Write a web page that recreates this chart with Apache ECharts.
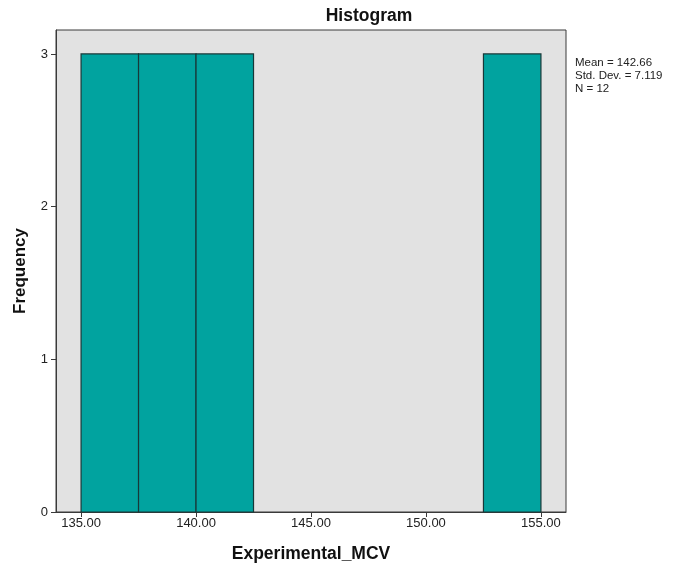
<!DOCTYPE html>
<html>
<head>
<meta charset="utf-8">
<script src="https://cdn.jsdelivr.net/npm/echarts@6/dist/echarts.min.js"></script>
<style>
  html, body { margin: 0; padding: 0; background: #fff; }
  #chart { width: 679px; height: 569px; }
</style>
</head>
<body>
<div id="chart"></div>
<script>
// Histogram bins of Experimental_MCV: lower edge, upper edge, frequency
const binStart = [135.0, 137.5, 140.0, 152.5];
const binEnd   = [137.5, 140.0, 142.5, 155.0];
const binFreq  = [3, 3, 3, 3];

const xTicks = [135, 140, 145, 150, 155];
const yTicks = [0, 1, 2, 3];

const statsLines = ['Mean = 142.66', 'Std. Dev. = 7.119', 'N = 12'];

const FONT = '"Liberation Sans", Arial, sans-serif';

const chart = echarts.init(document.getElementById('chart'), null, { renderer: 'canvas' });

const binData = binStart.map((s, i) => [s, binEnd[i], binFreq[i]]);

chart.setOption({
  animation: false,
  backgroundColor: '#ffffff',
  title: {
    text: 'Histogram',
    left: 364,
    top: 2,
    textAlign: 'center',
    textStyle: { fontFamily: FONT, fontSize: 17.5, fontWeight: 'bold', color: '#111' }
  },
  grid: {
    left: 56, right: 113, top: 30, bottom: 57,
    containLabel: false,
    outerBoundsMode: 'none',
    show: true,
    backgroundColor: '#e2e2e2',
    borderColor: '#3a3a3a',
    borderWidth: 1
  },
  xAxis: {
    type: 'value',
    min: 133.91,
    max: 156.09,
    name: 'Experimental_MCV',
    nameLocation: 'middle',
    nameGap: 33,
    nameTextStyle: { fontFamily: FONT, fontSize: 17.5, fontWeight: 'bold', color: '#111' },
    splitLine: { show: false },
    axisLine: { show: true, lineStyle: { color: '#3a3a3a' } },
    axisTick: { show: true, length: 5, customValues: xTicks, lineStyle: { color: '#3a3a3a' } },
    axisLabel: {
      customValues: xTicks,
      formatter: v => v.toFixed(2),
      fontFamily: FONT, fontSize: 13, color: '#222', margin: 5
    }
  },
  yAxis: {
    type: 'value',
    min: 0,
    max: 3.157,
    name: 'Frequency',
    nameLocation: 'middle',
    nameGap: 27,
    nameRotate: 90,
    nameTextStyle: { fontFamily: FONT, fontSize: 17, fontWeight: 'bold', color: '#111' },
    splitLine: { show: false },
    axisLine: { show: true, lineStyle: { color: '#3a3a3a' } },
    axisTick: { show: true, length: 5, customValues: yTicks, lineStyle: { color: '#3a3a3a' } },
    axisLabel: {
      customValues: yTicks,
      fontFamily: FONT, fontSize: 13, color: '#222', margin: 8
    }
  },
  graphic: statsLines.map((t, i) => ({
    type: 'text',
    left: 575,
    top: 57 + i * 13,
    style: { text: t, fontFamily: FONT, fontSize: 11.5, fill: '#222' }
  })),
  series: [{
    type: 'custom',
    data: binData,
    encode: { x: [0, 1], y: 2 },
    renderItem: function (params, api) {
      const p0 = api.coord([api.value(0), 0]);
      const p1 = api.coord([api.value(1), api.value(2)]);
      return {
        type: 'rect',
        shape: { x: p0[0], y: p1[1], width: p1[0] - p0[0], height: p0[1] - p1[1] },
        style: { fill: '#01a39f', stroke: '#183838', lineWidth: 1.2 }
      };
    }
  }]
});
</script>
</body>
</html>
